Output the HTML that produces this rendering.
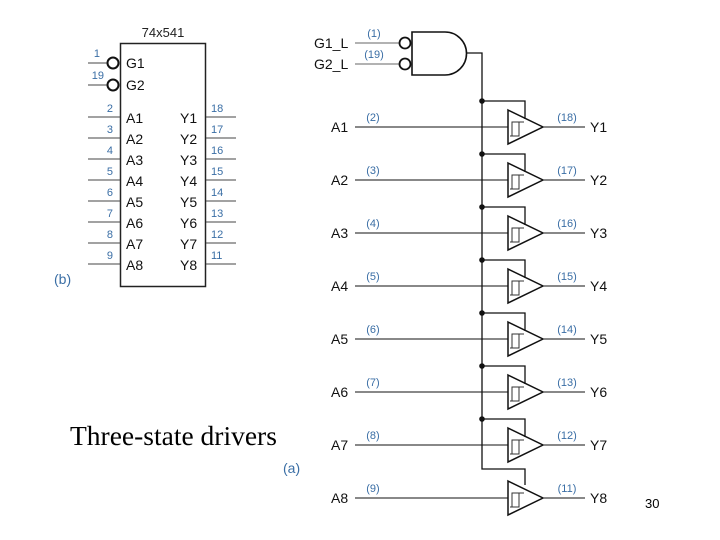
<!DOCTYPE html>
<html><head><style>
body{margin:0;background:#fff;}
svg{display:block;}
text{font-family:"Liberation Sans",sans-serif;}
</style></head><body>
<svg width="720" height="540" viewBox="0 0 720 540" xmlns="http://www.w3.org/2000/svg">
<text x="163" y="37" font-size="13" text-anchor="middle" fill="#222">74x541</text>
<rect x="120.5" y="43.5" width="85" height="243" fill="none" stroke="#222" stroke-width="1.5"/>
<g stroke="#444" stroke-width="1">
<line x1="88" y1="63" x2="107" y2="63"/><line x1="88" y1="85" x2="107" y2="85"/>
</g>
<circle cx="113" cy="63" r="5.5" fill="#fff" stroke="#111" stroke-width="2"/>
<circle cx="113" cy="85" r="5.5" fill="#fff" stroke="#111" stroke-width="2"/>
<text x="126" y="68" font-size="14" fill="#111">G1</text>
<text x="126" y="90" font-size="14" fill="#111">G2</text>
<text x="100" y="57" font-size="11" fill="#3a6ea5" text-anchor="end">1</text>
<text x="104" y="79" font-size="11" fill="#3a6ea5" text-anchor="end">19</text>
<g font-size="14" fill="#111">
<text x="126" y="123">A1</text><text x="126" y="144">A2</text><text x="126" y="165">A3</text><text x="126" y="186">A4</text>
<text x="126" y="207">A5</text><text x="126" y="228">A6</text><text x="126" y="249">A7</text><text x="126" y="270">A8</text>
<text x="180" y="123">Y1</text><text x="180" y="144">Y2</text><text x="180" y="165">Y3</text><text x="180" y="186">Y4</text>
<text x="180" y="207">Y5</text><text x="180" y="228">Y6</text><text x="180" y="249">Y7</text><text x="180" y="270">Y8</text>
</g>
<g stroke="#444" stroke-width="1">
<line x1="88" y1="117" x2="120" y2="117"/><line x1="88" y1="138" x2="120" y2="138"/><line x1="88" y1="159" x2="120" y2="159"/><line x1="88" y1="180" x2="120" y2="180"/>
<line x1="88" y1="201" x2="120" y2="201"/><line x1="88" y1="222" x2="120" y2="222"/><line x1="88" y1="243" x2="120" y2="243"/><line x1="88" y1="264" x2="120" y2="264"/>
<line x1="206" y1="117" x2="236" y2="117"/><line x1="206" y1="138" x2="236" y2="138"/><line x1="206" y1="159" x2="236" y2="159"/><line x1="206" y1="180" x2="236" y2="180"/>
<line x1="206" y1="201" x2="236" y2="201"/><line x1="206" y1="222" x2="236" y2="222"/><line x1="206" y1="243" x2="236" y2="243"/><line x1="206" y1="264" x2="236" y2="264"/>
</g>
<g font-size="11" fill="#3a6ea5">
<text x="113" y="112" text-anchor="end">2</text><text x="113" y="133" text-anchor="end">3</text><text x="113" y="154" text-anchor="end">4</text><text x="113" y="175" text-anchor="end">5</text>
<text x="113" y="196" text-anchor="end">6</text><text x="113" y="217" text-anchor="end">7</text><text x="113" y="238" text-anchor="end">8</text><text x="113" y="259" text-anchor="end">9</text>
<text x="211" y="112">18</text><text x="211" y="133">17</text><text x="211" y="154">16</text><text x="211" y="175">15</text>
<text x="211" y="196">14</text><text x="211" y="217">13</text><text x="211" y="238">12</text><text x="211" y="259">11</text>
</g>
<text x="54" y="284" font-size="14" fill="#3a6ea5">(b)</text>

<text x="314" y="48" font-size="14" fill="#111">G1_L</text>
<text x="314" y="69" font-size="14" fill="#111">G2_L</text>
<text x="374" y="37" font-size="11" fill="#3a6ea5" text-anchor="middle">(1)</text>
<text x="374" y="58" font-size="11" fill="#3a6ea5" text-anchor="middle">(19)</text>
<line x1="355" y1="43" x2="400" y2="43" stroke="#666" stroke-width="1"/>
<line x1="355" y1="64" x2="400" y2="64" stroke="#666" stroke-width="1"/>
<circle cx="405" cy="43" r="5.5" fill="#fff" stroke="#111" stroke-width="1.8"/>
<circle cx="405" cy="64" r="5.5" fill="#fff" stroke="#111" stroke-width="1.8"/>
<path d="M412 32 H445 A21.5 21.5 0 0 1 445 75 H412 Z" fill="#fff" stroke="#111" stroke-width="1.6"/>
<path d="M466 53 H482 V469 H525 V485" fill="none" stroke="#111" stroke-width="1.3"/>

<g id="rows"></g>
<text x="70" y="445" font-size="27.5" fill="#000" style="font-family:'Liberation Serif',serif">Three-state drivers</text>
<text x="283" y="473" font-size="14" fill="#3a6ea5">(a)</text>
<text x="645" y="508" font-size="13" fill="#000">30</text>
</svg>
<script>
var g=document.getElementById('rows'),s='';
var ins=['(2)','(3)','(4)','(5)','(6)','(7)','(8)','(9)'],outs=['(18)','(17)','(16)','(15)','(14)','(13)','(12)','(11)'];
for(var i=0;i<8;i++){var y=127+i*53;
s+='<text x="331" y="'+(y+5)+'" font-size="14" fill="#111">A'+(i+1)+'</text>';
s+='<text x="590" y="'+(y+5)+'" font-size="14" fill="#111">Y'+(i+1)+'</text>';
s+='<text x="373" y="'+(y-6)+'" font-size="11" fill="#3a6ea5" text-anchor="middle">'+ins[i]+'</text>';
s+='<text x="567" y="'+(y-6)+'" font-size="11" fill="#3a6ea5" text-anchor="middle">'+outs[i]+'</text>';
s+='<line x1="355" y1="'+y+'" x2="508" y2="'+y+'" stroke="#111" stroke-width="1"/>';
s+='<line x1="543" y1="'+y+'" x2="585" y2="'+y+'" stroke="#111" stroke-width="1"/>';
s+='<path d="M508 '+(y-17)+' L543 '+y+' L508 '+(y+17)+' Z" fill="#fff" stroke="#111" stroke-width="1.5"/>';
s+='<path d="M510 '+(y+9)+' H519 V'+(y-5)+' M512 '+(y+9)+' V'+(y-5)+' H524" fill="none" stroke="#333" stroke-width="1"/>';
if(i<7){s+='<path d="M482 '+(y-26)+' H525 V'+(y-8)+'" fill="none" stroke="#111" stroke-width="1.3"/>';
s+='<circle cx="482" cy="'+(y-26)+'" r="2.8" fill="#111"/>';}
}
g.innerHTML=s;
</script>
</body></html>
